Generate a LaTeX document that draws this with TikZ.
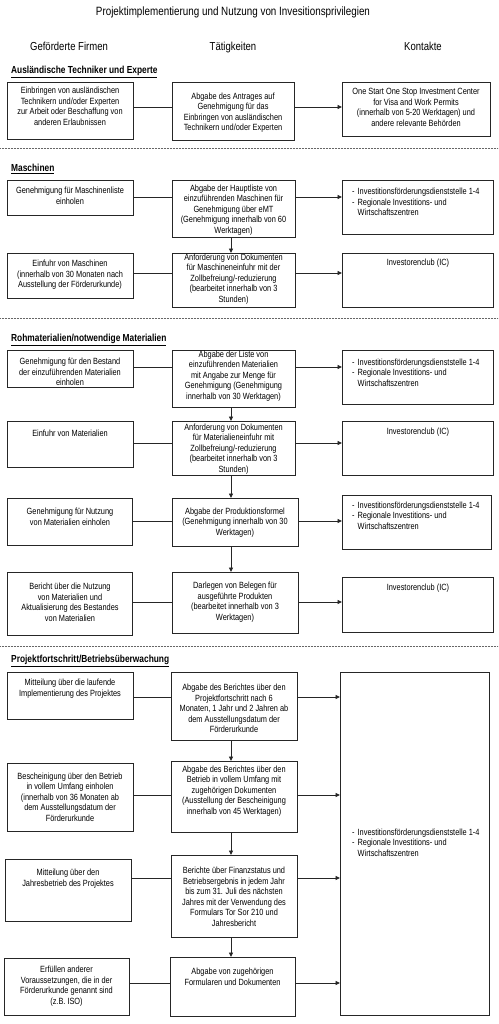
\documentclass[tikz,border=0pt]{standalone}
\usepackage{fontspec}
\setmainfont[FakeStretch=0.82]{Liberation Sans}
\usetikzlibrary{arrows.meta}
\newcommand\mkbox[5]{\node[box, anchor=north west, minimum width={(#4-#2)*1pt}, minimum height={(#5-#3)*1pt}] (#1) at (#2,#3) {};}
\newcommand\kontaktlist{\begin{tabular}[t]{@{}l@{\hspace{3pt}}l@{}}-&Investitionsförderungsdienststelle 1-4\\-&Regionale Investitions- und\\&Wirtschaftszentren\end{tabular}}
\begin{document}
\begin{tikzpicture}[x=1pt,y=-1pt,
  box/.style={draw=black!85, line width=0.95pt, inner sep=0pt},
  txt/.style={align=center, font=\fontsize{9}{10.5}\selectfont, inner sep=0pt},
  lst/.style={anchor=base west, font=\fontsize{9}{10.5}\selectfont, inner sep=0pt},
  conn/.style={draw=black!85, line width=0.95pt},
  arr/.style={conn, -{Triangle[length=4.5pt,width=4pt]}},
  sep/.style={draw=black!60, line width=0.6pt, dash pattern=on 0.6pt off 0.9pt},
  ttl/.style={anchor=base, font=\fontsize{12}{14}\selectfont, inner sep=0pt},
  colh/.style={anchor=base, font=\fontsize{11.6}{13}\selectfont, inner sep=0pt},
  sec/.style={anchor=base west, font=\bfseries\fontsize{10.2}{12}\selectfont, inner sep=0pt}]
\useasboundingbox (0,0) rectangle (498,1024);

% title and headers
\node[ttl] (title) at (233,16) {Projektimplementierung und Nutzung von Invesitionsprivilegien};
\node[colh] (h1) at (69,51) {Geförderte Firmen};
\node[colh] (h2) at (233,51) {Tätigkeiten};
\node[colh] (h3) at (423,51) {Kontakte};

% separators
\coordinate (s1a) at (0,148); \coordinate (s1b) at (498,148);
\coordinate (s2a) at (0,318); \coordinate (s2b) at (498,318);
\coordinate (s3a) at (0,646); \coordinate (s3b) at (498,646);
\draw[sep] (s1a) -- (s1b);
\draw[sep] (s2a) -- (s2b);
\draw[sep] (s3a) -- (s3b);

\coordinate (ax) at (231,0);

% ===== Section A =====
\node[sec] (secA) at (11,73.5) {\underline{Ausländische Techniker und Experte}};
\mkbox{Al}{7}{82}{133}{139}
\mkbox{Am}{172}{82}{294}{140}
\mkbox{Ar}{342}{82}{490}{136}
\node[txt] (Alt) at (70,106.5) {Einbringen von ausländischen\\Technikern und/oder Experten\\zur Arbeit oder Beschaffung von\\anderen Erlaubnissen};
\node[txt] (Amt) at (233,112.5) {Abgabe des Antrages auf\\Genehmigung für das\\Einbringen von ausländischen\\Technikern und/oder Experten};
\node[txt] (Art) at (416,107.5) {One Start One Stop Investment Center\\for Visa and Work Permits\\(innerhalb von 5-20 Werktagen) und\\andere relevante Behörden};
\coordinate (rA) at (0,107);
\draw[conn] (Al.east |- rA) -- (Am.west |- rA);
\draw[arr] (Am.east |- rA) -- (Ar.west |- rA);

% ===== Section B =====
\node[sec] (secB) at (11,171.5) {\underline{Maschinen}};
\mkbox{Bla}{7}{180}{133}{215}
\mkbox{Bma}{172}{180}{295}{237}
\mkbox{Bra}{342}{180}{493}{234}
\node[txt] (Blat) at (70,196) {Genehmigung für Maschinenliste\\einholen};
\node[txt] (Bmat) at (233.5,210) {Abgabe der Hauptliste von\\einzuführenden Maschinen für\\Genehmigung über eMT\\(Genehmigung innerhalb von 60\\Werktagen)};
\node[lst] (Brat) at (352,195) {\kontaktlist};
\coordinate (rBa) at (0,197);
\draw[conn] (Bla.east |- rBa) -- (Bma.west |- rBa);
\draw[arr] (Bma.east |- rBa) -- (Bra.west |- rBa);

\mkbox{Blb}{7}{253}{133}{298}
\mkbox{Bmb}{172}{253}{295}{307}
\mkbox{Brb}{342}{253}{493}{307}
\node[txt] (Blbt) at (70,275) {Einfuhr von Maschinen\\(innerhalb von 30 Monaten nach\\Ausstellung der Förderurkunde)};
\node[txt] (Bmbt) at (233.5,279) {Anforderung von Dokumenten\\für Maschineneinfuhr mit der\\Zollbefreiung/-reduzierung\\(bearbeitet innerhalb von 3\\Stunden)};
\node[txt] (Brbt) at (418,263) {Investorenclub (IC)};
\coordinate (rBb) at (0,273);
\draw[conn] (Blb.east |- rBb) -- (Bmb.west |- rBb);
\draw[arr] (Bmb.east |- rBb) -- (Brb.west |- rBb);
\draw[arr] (Bma.south -| ax) -- (Bmb.north -| ax);

% ===== Section C =====
\node[sec] (secC) at (11,341.5) {\underline{Rohmaterialien/notwendige Materialien}};
\mkbox{Cla}{7}{350}{133}{387}
\mkbox{Cma}{172}{350}{295}{407}
\mkbox{Cra}{342}{350}{493}{404}
\node[txt] (Clat) at (70,372) {Genehmigung für den Bestand\\der einzuführenden Materialien\\einholen};
\node[txt] (Cmat) at (233.5,376) {Abgabe der Liste von\\einzuführenden Materialien\\mit Angabe zur Menge für\\Genehmigung (Genehmigung\\innerhalb von 30 Werktagen)};
\node[lst] (Crat) at (352,365) {\kontaktlist};
\coordinate (rCa) at (0,367);
\draw[conn] (Cla.east |- rCa) -- (Cma.west |- rCa);
\draw[arr] (Cma.east |- rCa) -- (Cra.west |- rCa);

\mkbox{Clb}{7}{421}{133}{467}
\mkbox{Cmb}{172}{421}{295}{475}
\mkbox{Crb}{342}{421}{493}{475}
\node[txt] (Clbt) at (70,433) {Einfuhr von Materialien};
\node[txt] (Cmbt) at (233.5,449) {Anforderung von Dokumenten\\für Materialieneinfuhr mit\\Zollbefreiung/-reduzierung\\(bearbeitet innerhalb von 3\\Stunden)};
\node[txt] (Crbt) at (418,432) {Investorenclub (IC)};
\coordinate (rCb) at (0,443);
\draw[conn] (Clb.east |- rCb) -- (Cmb.west |- rCb);
\draw[arr] (Cmb.east |- rCb) -- (Crb.west |- rCb);
\draw[arr] (Cma.south -| ax) -- (Cmb.north -| ax);

\mkbox{Clc}{7}{498}{132}{545}
\mkbox{Cmc}{172}{498}{298}{546}
\mkbox{Crc}{342}{495}{491}{549}
\node[txt] (Clct) at (70,517) {Genehmigung für Nutzung\\von Materialien einholen};
\node[txt] (Cmct) at (235,522.5) {Abgabe der Produktionsformel\\(Genehmigung innerhalb von 30\\Werktagen)};
\node[lst] (Crct) at (352,508) {\kontaktlist};
\coordinate (rCc) at (0,521);
\draw[conn] (Clc.east |- rCc) -- (Cmc.west |- rCc);
\draw[arr] (Cmc.east |- rCc) -- (Crc.west |- rCc);
\draw[arr] (Cmb.south -| ax) -- (Cmc.north -| ax);

\mkbox{Cld}{7}{572}{132}{635}
\mkbox{Cmd}{172}{572}{298}{633}
\mkbox{Crd}{342}{577}{493}{632}
\node[txt] (Cldt) at (70,602.5) {Bericht über die Nutzung\\von Materialien und\\Aktualisierung des Bestandes\\von Materialien};
\node[txt] (Cmdt) at (235,602) {Darlegen von Belegen für\\ausgeführte Produkten\\(bearbeitet innerhalb von 3\\Werktagen)};
\node[txt] (Crdt) at (418,588) {Investorenclub (IC)};
\coordinate (rCd) at (0,602);
\draw[conn] (Cld.east |- rCd) -- (Cmd.west |- rCd);
\draw[arr] (Cmd.east |- rCd) -- (Crd.west |- rCd);
\draw[arr] (Cmc.south -| ax) -- (Cmd.north -| ax);

% ===== Section D =====
\node[sec] (secD) at (11,662.5) {\underline{Projektfortschritt/Betriebsüberwachung}};
\mkbox{Dr}{340}{672}{489}{1015}
\node[lst] (Drt) at (352,835) {\kontaktlist};

\mkbox{Dla}{7}{672}{133}{719}
\mkbox{Dma}{171}{672}{297}{740}
\node[txt] (Dlat) at (70,688.5) {Mitteilung über die laufende\\Implementierung des Projektes};
\node[txt] (Dmat) at (234,708.5) {Abgabe des Berichtes über den\\Projektfortschritt nach 6\\Monaten, 1 Jahr und 2 Jahren ab\\dem Ausstellungsdatum der\\Förderurkunde};
\coordinate (rDa) at (0,697);
\draw[conn] (Dla.east |- rDa) -- (Dma.west |- rDa);
\draw[arr] (Dma.east |- rDa) -- (Dr.west |- rDa);

\mkbox{Dlb}{7}{763}{133}{831}
\mkbox{Dmb}{171}{761}{297}{832}
\node[txt] (Dlbt) at (70,797) {Bescheinigung über den Betrieb\\in vollem Umfang einholen\\(innerhalb von 36 Monaten ab\\dem Ausstellungsdatum der\\Förderurkunde};
\node[txt] (Dmbt) at (234,791) {Abgabe des Berichtes über den\\Betrieb in vollem Umfang mit\\zugehörigen Dokumenten\\(Ausstellung der Bescheinigung\\innerhalb von 45 Werktagen)};
\coordinate (rDb) at (0,795);
\draw[conn] (Dlb.east |- rDb) -- (Dmb.west |- rDb);
\draw[arr] (Dmb.east |- rDb) -- (Dr.west |- rDb);
\draw[arr] (Dma.south -| ax) -- (Dmb.north -| ax);

\mkbox{Dlc}{5}{859}{131}{921}
\mkbox{Dmc}{171}{855}{297}{937}
\node[txt] (Dlct) at (68,878.5) {Mitteilung über den\\Jahresbetrieb des Projektes};
\node[txt] (Dmct) at (234,897) {Berichte über Finanzstatus und\\Betriebsergebnis in jedem Jahr\\bis zum 31. Juli des nächsten\\Jahres mit der Verwendung des\\Formulars Tor Sor 210 und\\Jahresbericht};
\coordinate (rDc) at (0,878);
\draw[conn] (Dlc.east |- rDc) -- (Dmc.west |- rDc);
\draw[arr] (Dmc.east |- rDc) -- (Dr.west |- rDc);
\draw[arr] (Dmb.south -| ax) -- (Dmc.north -| ax);

\mkbox{Dld}{4}{958}{129}{1015}
\mkbox{Dmd}{170}{957}{295}{1016}
\node[txt] (Dldt) at (66.5,986) {Erfüllen anderer\\Voraussetzungen, die in der\\Förderurkunde genannt sind\\(z.B. ISO)};
\node[txt] (Dmdt) at (232.5,977) {Abgabe von zugehörigen\\Formularen und Dokumenten};
\coordinate (rDd) at (0,983);
\draw[conn] (Dld.east |- rDd) -- (Dmd.west |- rDd);
\draw[arr] (Dmd.east |- rDd) -- (Dr.west |- rDd);
\draw[arr] (Dmc.south -| ax) -- (Dmd.north -| ax);
\end{tikzpicture}
\end{document}
